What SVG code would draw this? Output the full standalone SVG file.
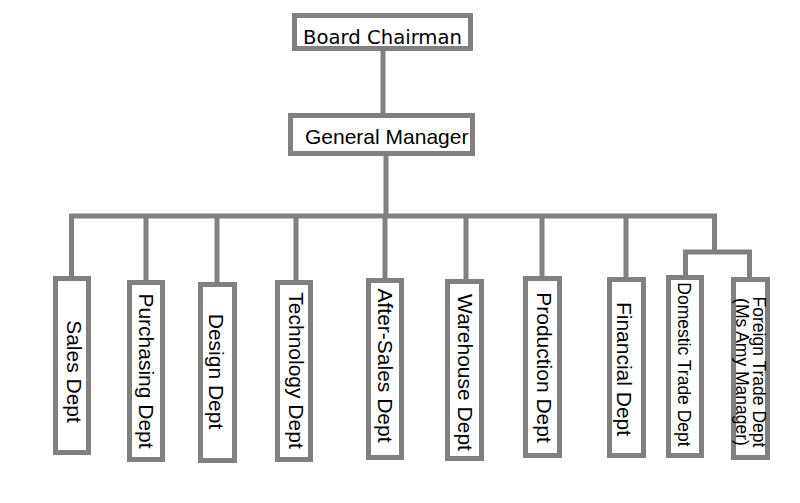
<svg xmlns="http://www.w3.org/2000/svg" width="800" height="503" viewBox="0 0 800 503">
<style>
.box{fill:#fff;stroke:#808080;stroke-width:5}
.ln{fill:none;stroke:#808080;stroke-width:5;stroke-linejoin:miter}
.t{font-family:"Liberation Sans",Arial,sans-serif;font-size:21px;fill:#000}
.ts{font-family:"Liberation Sans",Arial,sans-serif;font-size:17.5px;fill:#000}
.tb{font-family:"DejaVu Sans","Liberation Sans",sans-serif;font-size:19.5px;fill:#000}
</style>
<rect width="800" height="503" fill="#fff"/>
<g id="connectors">
<line class="ln" x1="383" y1="50" x2="383" y2="114"/>
<line class="ln" x1="386" y1="155" x2="386" y2="216"/>
<path class="ln" d="M71.5,277 V216 H714.5 V252"/>
<path class="ln" d="M685.5,277 V252 H749.5 V279"/>
<line class="ln" x1="146" y1="216" x2="146" y2="281"/>
<line class="ln" x1="217" y1="216" x2="217" y2="283"/>
<line class="ln" x1="296" y1="216" x2="296" y2="281"/>
<line class="ln" x1="385" y1="216" x2="385" y2="279"/>
<line class="ln" x1="466" y1="216" x2="466" y2="280"/>
<line class="ln" x1="542" y1="216" x2="542" y2="277"/>
<line class="ln" x1="626" y1="216" x2="626" y2="278"/>
</g>
<g id="board-chairman">
<rect class="box" x="294.5" y="15.5" width="176" height="33"/>
<text class="tb" x="303" y="43.5" textLength="159" lengthAdjust="spacingAndGlyphs">Board Chairman</text>
</g>
<g id="general-manager">
<rect class="box" x="290.5" y="115.5" width="182" height="38"/>
<text class="t" x="305" y="144">General Manager</text>
</g>
<g id="sales">
<rect class="box" x="55.5" y="278.5" width="33" height="174"/>
<text class="t" text-anchor="middle" transform="translate(67,371.5) rotate(90)">Sales Dept</text>
</g>
<g id="purchasing">
<rect class="box" x="129.5" y="282.5" width="33" height="177"/>
<text class="t" text-anchor="middle" transform="translate(139,371) rotate(90)">Purchasing Dept</text>
</g>
<g id="design">
<rect class="box" x="200.5" y="284.5" width="34" height="176"/>
<text class="t" text-anchor="middle" transform="translate(209,371.5) rotate(90)">Design Dept</text>
</g>
<g id="technology">
<rect class="box" x="277.5" y="282.5" width="33" height="177"/>
<text class="t" text-anchor="middle" transform="translate(289,370.5) rotate(90)">Technology Dept</text>
</g>
<g id="after-sales">
<rect class="box" x="368.5" y="280.5" width="33" height="177"/>
<text class="t" text-anchor="middle" transform="translate(378,365.5) rotate(90)">After-Sales Dept</text>
</g>
<g id="warehouse">
<rect class="box" x="447.5" y="281.5" width="34" height="177"/>
<text class="t" text-anchor="middle" transform="translate(458,372.5) rotate(90)">Warehouse Dept</text>
</g>
<g id="production">
<rect class="box" x="525.5" y="278.5" width="34" height="177"/>
<text class="t" text-anchor="middle" transform="translate(537,367.5) rotate(90)">Production Dept</text>
</g>
<g id="financial">
<rect class="box" x="609.5" y="279.5" width="34" height="176"/>
<text class="t" text-anchor="middle" transform="translate(617,369) rotate(90)">Financial Dept</text>
</g>
<g id="domestic-trade">
<rect class="box" x="668.5" y="277.5" width="33" height="178"/>
<text class="ts" text-anchor="middle" transform="translate(678,364.5) rotate(90)">Domestic Trade Dept</text>
</g>
<g id="foreign-trade">
<rect class="box" x="733.5" y="279.5" width="34" height="178"/>
<text class="ts" text-anchor="middle" transform="translate(753,372) rotate(90)">Foreign Trade Dept</text>
<text class="ts" text-anchor="middle" transform="translate(736,372) rotate(90)">(Ms Amy Manager)</text>
</g>
</svg>
